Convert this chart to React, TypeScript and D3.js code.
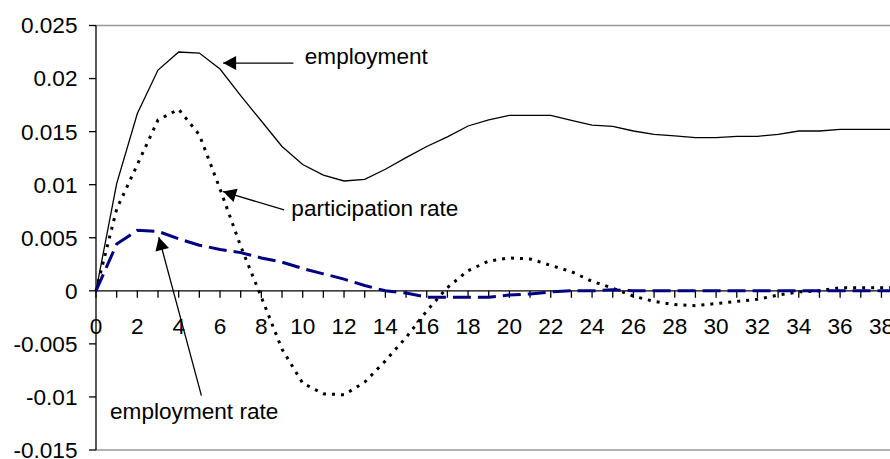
import React from 'react';
import * as d3 from 'd3';

const periods = [0,1,2,3,4,5,6,7,8,9,10,11,12,13,14,15,16,17,18,19,20,21,22,23,24,25,26,27,28,29,30,31,32,33,34,35,36,37,38,39,40];

const employment = [0, 0.0101, 0.0167, 0.0208, 0.0225, 0.0224, 0.0209, 0.0184, 0.016, 0.0136, 0.0119, 0.0109, 0.01035, 0.0105, 0.01145, 0.01255, 0.0136, 0.0145, 0.01553, 0.0161, 0.01653, 0.01653, 0.01653, 0.01606, 0.01562, 0.0155, 0.01506, 0.01475, 0.01459, 0.01443, 0.01443, 0.01456, 0.01456, 0.01475, 0.01506, 0.01506, 0.01522, 0.01522, 0.01522, 0.01522, 0.01522];

const participationRate = [0, 0.0077, 0.0119, 0.0161, 0.0171, 0.0147, 0.0096, 0.0042, -0.0006, -0.0055, -0.0087, -0.0097, -0.0098, -0.0086, -0.0066, -0.0044, -0.0019, 0.0003, 0.0019, 0.0028, 0.0031, 0.003, 0.0024, 0.0018, 0.0009, 0.00025, -0.0005, -0.001, -0.0013, -0.0014, -0.0012, -0.001, -0.0008, -0.0004, -0.0001, 0, 0.0003, 0.0003, 0.0003, 0.0003, 0.0003];

const employmentRate = [0, 0.0044, 0.0057, 0.0056, 0.0049, 0.0043, 0.0039, 0.0036, 0.0031, 0.0027, 0.0021, 0.0016, 0.0011, 0.0005, 0, -0.0002, -0.0006, -0.0006, -0.0006, -0.0006, -0.0004, -0.0003, -0.0001, 0, 0, 0.0001, 0, 0, 0, 0, 0, 0, 0, 0, 0, 0, 0, 0, 0, 0, 0];

const yTicks = [0.025, 0.02, 0.015, 0.01, 0.005, 0, -0.005, -0.01, -0.015];
const yTickLabels = ['0.025', '0.02', '0.015', '0.01', '0.005', '0', '-0.005', '-0.01', '-0.015'];
const xLabelTicks = [0,2,4,6,8,10,12,14,16,18,20,22,24,26,28,30,32,34,36,38];

// annotations in data coordinates
const annotLabels = ['employment', 'participation rate', 'employment rate'];
const annotTextX = [10.1, 9.45, 0.68];
const annotTextY = [0.02134, 0.00701, -0.01208];
const annotTailX = [9.55, 9.1, 5.1];
const annotTailY = [0.02146, 0.00762, -0.00988];
const annotTipX = [6.15, 6.15, 3.04];
const annotTipY = [0.02146, 0.00935, 0.00505];

export default function App() {
  const W = 890, H = 459;
  const x = d3.scaleLinear().domain([0, 40]).range([96, 96 + 40 * 20.67]);
  const y = d3.scaleLinear().domain([-0.015, 0.025]).range([450, 25.5]);
  const plotLeft = 96, plotTop = y(0.025), plotBottom = y(-0.015);
  const font = "'Liberation Sans', Arial, sans-serif";
  const fs = 22.6;

  const line = d3.line<number>().x((_, i) => x(periods[i])).y((d) => y(d));

  const arrowHead = (tx: number, ty: number, sx: number, sy: number) => {
    const dx = tx - sx, dy = ty - sy;
    const len = Math.sqrt(dx * dx + dy * dy);
    const ux = dx / len, uy = dy / len;
    const L = 13, hw = 7;
    const bx = tx - ux * L, by = ty - uy * L;
    const px = -uy, py = ux;
    return `${tx},${ty} ${bx + px * hw},${by + py * hw} ${bx - px * hw},${by - py * hw}`;
  };

  return (
    <svg width={W} height={H} style={{ position: 'absolute', left: 0, top: 0, background: '#fff' }}>
      <rect x={0} y={0} width={W} height={H} fill="#fff" />
      <line x1={plotLeft} x2={W} y1={plotTop} y2={plotTop} stroke="#999" strokeWidth={1.3} />
      <line x1={plotLeft} x2={W} y1={plotBottom} y2={plotBottom} stroke="#999" strokeWidth={1.3} />

      <line x1={plotLeft} x2={plotLeft} y1={plotTop} y2={plotBottom} stroke="#000" strokeWidth={1.3} />
      {yTicks.map((t, i) => (
        <g key={'yt' + i}>
          <line x1={plotLeft - 7} x2={plotLeft} y1={y(t)} y2={y(t)} stroke="#000" strokeWidth={1.3} />
          <text x={77.5} y={y(t)} dy="0.35em" textAnchor="end" fontFamily={font} fontSize={fs} fill="#000">{yTickLabels[i]}</text>
        </g>
      ))}

      <line x1={plotLeft} x2={W} y1={y(0)} y2={y(0)} stroke="#000" strokeWidth={1.3} />
      {periods.map((p) => (
        <line key={'xt' + p} x1={x(p)} x2={x(p)} y1={y(0)} y2={y(0) + 7} stroke="#000" strokeWidth={1.3} />
      ))}
      {xLabelTicks.map((p) => (
        <text key={'xl' + p} x={x(p)} y={y(0) + 43} textAnchor="middle" fontFamily={font} fontSize={fs} fill="#000">{p}</text>
      ))}

      <path d={line(employment) || ''} fill="none" stroke="#000" strokeWidth={1.3} />
      <path d={line(participationRate) || ''} fill="none" stroke="#000" strokeWidth={3} strokeDasharray="3,6" />
      <path d={line(employmentRate) || ''} fill="none" stroke="#000080" strokeWidth={3} strokeDasharray="18,7" />

      {annotLabels.map((lab, i) => {
        const tx = x(annotTipX[i]), ty = y(annotTipY[i]);
        const sx = x(annotTailX[i]), sy = y(annotTailY[i]);
        return (
          <g key={'an' + i}>
            <line x1={sx} y1={sy} x2={tx} y2={ty} stroke="#000" strokeWidth={1.3} />
            <polygon points={arrowHead(tx, ty, sx, sy)} fill="#000" />
            <text x={x(annotTextX[i])} y={y(annotTextY[i])} fontFamily={font} fontSize={fs} fill="#000">{lab}</text>
          </g>
        );
      })}
    </svg>
  );
}
